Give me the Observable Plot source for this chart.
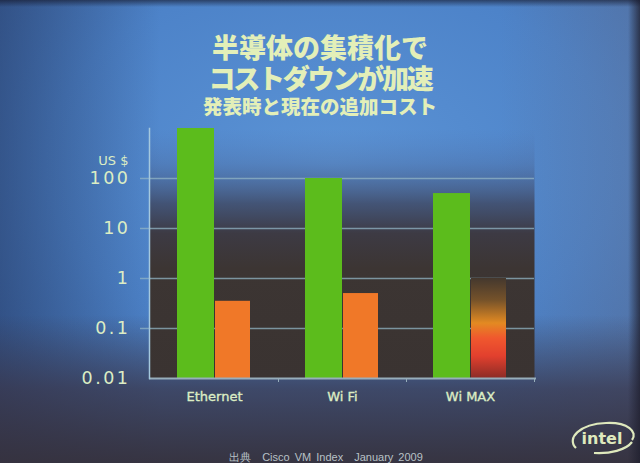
<!DOCTYPE html>
<html><head><meta charset="utf-8">
<script src="https://cdn.jsdelivr.net/npm/d3@7"></script>
<script src="https://cdn.jsdelivr.net/npm/@observablehq/plot@0.6"></script>
<style>
html,body{margin:0;padding:0;background:#333;}
#slide{position:relative;width:640px;height:463px;overflow:hidden;
 background:
  linear-gradient(to bottom, rgba(20,22,40,0.6) 0px, rgba(0,0,0,0) 7px),
  linear-gradient(to left, rgba(30,30,45,0.75) 0px, rgba(0,0,0,0) 12px),
  linear-gradient(to bottom, rgba(0,0,0,0) 0%, rgba(0,0,0,0) 68%, rgba(58,55,75,0.75) 84%, rgba(54,50,62,0.97) 100%),
  linear-gradient(to right, rgba(0,0,0,0) 78%, rgba(105,105,125,0.3) 100%),
  linear-gradient(to right, rgba(25,35,70,0.45) 0%, rgba(0,0,0,0) 25%),
  radial-gradient(ellipse 90% 80% at 52% 35%, #5b93d5 0%, #4d83c9 50%, #4574b6 80%, #3c5c98 100%);
 font-family:"DejaVu Sans",sans-serif;}
.title{position:absolute;left:0;width:640px;text-align:center;color:#e3efb8;font-family:"Noto Sans CJK JP",sans-serif;font-weight:900;white-space:nowrap;}
#chart{position:absolute;left:0;top:118px;}
#caption{position:absolute;left:0;width:652px;text-align:center;top:450px;font-size:11px;color:#b8c1c6;font-family:"Liberation Sans",sans-serif;word-spacing:2px;}
#logo{position:absolute;left:566px;top:418px;}
</style></head>
<body>
<div id="slide">
  <div class="title" style="top:32px;font-size:27px;line-height:30px;">半導体の集積化で</div>
  <div class="title" style="top:63px;font-size:27px;line-height:30px;letter-spacing:-2.2px;">コストダウンが加速</div>
  <div class="title" style="top:95px;font-size:19.5px;line-height:21px;">発表時と現在の追加コスト</div>
  <div id="chart"></div>
  <div id="caption">出典　Cisco VM Index　January 2009</div>
  <svg id="logo" width="74" height="40" viewBox="0 0 74 40">
    <path d="M10 30 C 0 20, 14 6, 40 5 C 62 4, 72 14, 66 22" fill="none" stroke="#dfe9bd" stroke-width="2.2"/>
    <path d="M66 24 C 60 32, 44 36, 28 35" fill="none" stroke="#dfe9bd" stroke-width="2.2"/>
    <text x="36" y="26" text-anchor="middle" font-family="DejaVu Sans" font-weight="bold" font-size="16" fill="#dfe9bd">intel</text>
  </svg>
</div>
<script>
// ---- data ----
const categories = ["Ethernet", "Wi Fi", "Wi MAX"];
const launchCost = [1000, 100, 50];      // cost at introduction (US $)
const currentCost = [0.35, 0.5, null];   // current additional cost (US $)
const currentRangeTop = [null, null, 1]; // WiMAX: projected range, up to 1
const yTicks = [0.01, 0.1, 1, 10, 100];
const gridTicks = [0.1, 1, 10, 100];
const yUnit = "US $";

const launch = categories.map((c, i) => ({cat: c, v: launchCost[i]}));
const current = categories.map((c, i) => ({cat: c, v: currentCost[i]})).filter(d => d.v != null);
const range = categories.map((c, i) => ({cat: c, v: currentRangeTop[i]})).filter(d => d.v != null);

const textColor = "#dcedc4";

const chart = Plot.plot({
  width: 640,
  height: 345,
  marginLeft: 149,
  marginRight: 106,
  marginTop: 10,
  marginBottom: 85,
  style: {background: "transparent", fontFamily: "DejaVu Sans, sans-serif"},
  x: {domain: categories, padding: 0, axis: null},
  y: {type: "log", domain: [0.01, 1000], axis: null},
  marks: [
    Plot.frame({fill: "url(#panelGrad)", stroke: null}),
    Plot.ruleY(gridTicks, {stroke: "#92b4c4", strokeOpacity: 0.75, strokeWidth: 1.5, insetLeft: -9}),
    Plot.barY(launch, {x: "cat", y1: 0.01, y2: "v", fill: "#5cbc1c", insetLeft: 27, insetRight: 64}),
    Plot.barY(current, {x: "cat", y1: 0.01, y2: "v", fill: "#f07828", insetLeft: 65, insetRight: 28}),
    Plot.barY(range, {x: "cat", y1: 0.01, y2: "v", fill: "url(#wimaxGrad)", insetLeft: 65, insetRight: 28}),
    Plot.ruleY([0.01], {stroke: "#97aebb", strokeWidth: 2, insetRight: -2}),
    Plot.frame({anchor: "left", stroke: "#a4c8de", strokeWidth: 1.5}),
    Plot.axisY({ticks: yTicks, tickSize: 0, tickPadding: 19, tickFormat: d => String(d), fontSize: 17.5, color: textColor, label: null}),
    Plot.text([yUnit], {text: d => d, frameAnchor: "top-left", dx: -21, dy: 27, textAnchor: "end", fontSize: 13, fill: textColor}),
    Plot.axisX({tickSize: 0, tickPadding: 13, fontSize: 13, color: textColor, label: null}),
    Plot.axisX({tickSize: 4, tickFormat: () => "", dx: 64, color: "#97aebb", label: null})
  ]
});

const svg = d3.select(chart);
const defs = svg.insert("defs", ":first-child");
const pg = defs.append("linearGradient").attr("id", "panelGrad").attr("x1", 0).attr("y1", 0).attr("x2", 0).attr("y2", 1);
[[0, "rgba(80,115,175,0)"], [0.14, "rgba(74,98,145,0.3)"], [0.3, "rgba(62,68,92,0.78)"], [0.42, "rgba(60,55,62,0.96)"], [0.56, "#3c3533"], [1, "#3a3331"]]
  .forEach(([o, c]) => pg.append("stop").attr("offset", o).attr("stop-color", c));
const wg = defs.append("linearGradient").attr("id", "wimaxGrad").attr("x1", 0).attr("y1", 0).attr("x2", 0).attr("y2", 1);
[[0, "#44382e"], [0.22, "#75522a"], [0.45, "#e38a22"], [0.6, "#f0582e"], [0.78, "#e2402e"], [1, "#8c2c26"]]
  .forEach(([o, c]) => wg.append("stop").attr("offset", o).attr("stop-color", c));
svg.selectAll('g[aria-label="y-axis tick label"]').attr("letter-spacing", 2.5);
svg.selectAll('g[aria-label="x-axis tick label"]').attr("stroke", textColor).attr("stroke-width", 0.35);

document.getElementById("chart").appendChild(chart);
</script>
</body></html>
